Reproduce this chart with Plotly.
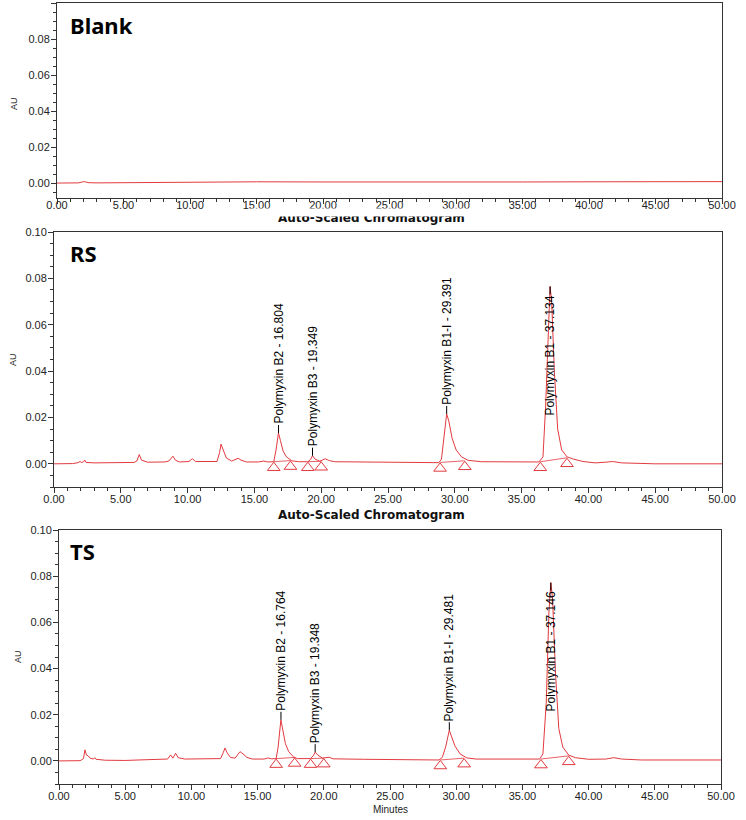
import plotly.graph_objects as go
from plotly.subplots import make_subplots

W, H = 746, 820
RED = "#e23a3f"
FONT = "Liberation Sans"

# ---- data (time in minutes, signal in AU) ----
blank_t = [0, 1.6, 1.9, 2.05, 2.2, 2.4, 3, 5, 8, 10, 15, 20, 25, 30, 35, 40, 45, 50]
blank_au = [0, 0.0001, 0.0006, 0.0008, 0.0005, 0.0002, 0.0001, 0.0002, 0.0004,
            0.0006, 0.0007, 0.0006, 0.0005, 0.0005, 0.0006, 0.0007, 0.0006, 0.0008]

rs_t = [0, 1.4, 1.8, 1.95, 2.05, 2.2, 2.3, 2.4, 3.0, 4.5, 6.0, 6.2, 6.38, 6.55, 6.75, 7.0,
        8.3, 8.6, 8.9, 9.1, 9.4, 10.1, 10.35, 10.6, 12.2, 12.4, 12.5, 12.65, 12.9, 13.3,
        13.6, 13.78, 14.0, 14.4, 15.3, 15.7, 16.0, 16.45, 16.62, 16.8, 16.95, 17.15, 17.4,
        17.8, 18.3, 19.0, 19.2, 19.35, 19.55, 19.9, 20.3, 20.6, 21.0, 23.0, 24.2, 24.5,
        28.8, 29.0, 29.2, 29.39, 29.55, 29.8, 30.1, 30.5, 31.0, 32.0, 36.3, 36.6, 36.8,
        37.0, 37.13, 37.25, 37.45, 37.7, 38.0, 38.4, 38.9, 39.6, 40.5, 41.3, 41.8, 42.5,
        45, 50]
rs_au = [0, 0.0001, 0.0005, 0.0010, 0.0006, 0.0008, 0.0016, 0.0006, 0.0004, 0.0005,
         0.0006, 0.0012, 0.0040, 0.0016, 0.0012, 0.0007, 0.0008, 0.0012, 0.0033, 0.0015,
         0.0008, 0.0010, 0.0022, 0.0010, 0.0010, 0.0050, 0.0085, 0.0060, 0.0025, 0.0012,
         0.0018, 0.0024, 0.0016, 0.0008, 0.0008, 0.0012, 0.0008, 0.0009, 0.0060, 0.0133,
         0.0100, 0.0055, 0.0030, 0.0013, 0.0009, 0.0009, 0.0018, 0.0035, 0.0020, 0.0011,
         0.0022, 0.0014, 0.0009, 0.0008, 0.0010, 0.0008, 0.0005, 0.0020, 0.0120, 0.0215,
         0.0185, 0.0110, 0.0060, 0.0030, 0.0015, 0.0009, 0.0008, 0.0030, 0.0250, 0.0620,
         0.0765, 0.0700, 0.0400, 0.0150, 0.0060, 0.0030, 0.0020, 0.0010, 0.0004, 0.0007,
         0.0010, 0.0004, 0.0000, 0.0000]

ts_t = [0, 1.6, 1.85, 1.96, 2.08, 2.2, 2.35, 2.6, 2.7, 2.8, 3.5, 5.0, 6.5, 7.0, 7.5, 8.2,
        8.43, 8.6, 8.81, 9.0, 9.5, 11.0, 12.2, 12.4, 12.54, 12.7, 12.95, 13.3, 13.5, 13.67,
        13.9, 14.2, 14.6, 15.5, 15.8, 16.05, 16.4, 16.55, 16.76, 16.9, 17.1, 17.35, 17.7,
        18.0, 19.0, 19.2, 19.35, 19.55, 19.9, 20.4, 20.7, 23.0, 28.7, 28.95, 29.2, 29.48,
        29.65, 29.9, 30.3, 30.8, 31.5, 36.3, 36.55, 36.8, 37.0, 37.15, 37.28, 37.5, 37.75,
        38.05, 38.5, 39.0, 40.0, 41.3, 41.9, 42.5, 44.0, 50]
ts_au = [0, 0.0001, 0.0010, 0.0048, 0.0025, 0.0022, 0.0012, 0.0008, 0.0014, 0.0007,
         0.0003, 0.0002, 0.0005, 0.0006, 0.0005, 0.0008, 0.0026, 0.0012, 0.0033, 0.0014,
         0.0008, 0.0008, 0.0010, 0.0035, 0.0056, 0.0035, 0.0015, 0.0012, 0.0030, 0.0040,
         0.0030, 0.0015, 0.0008, 0.0008, 0.0013, 0.0009, 0.0010, 0.0060, 0.0178, 0.0140,
         0.0075, 0.0040, 0.0018, 0.0010, 0.0010, 0.0022, 0.0038, 0.0025, 0.0012, 0.0016,
         0.0009, 0.0007, 0.0004, 0.0015, 0.0060, 0.0133, 0.0105, 0.0065, 0.0030, 0.0013,
         0.0008, 0.0008, 0.0030, 0.0250, 0.0640, 0.0772, 0.0700, 0.0380, 0.0140, 0.0060,
         0.0025, 0.0014, 0.0007, 0.0008, 0.0014, 0.0008, 0.0004, 0.0004]

peak_names = ["Polymyxin B2", "Polymyxin B3", "Polymyxin B1-I", "Polymyxin B1"]
rs_rt = [16.804, 19.349, 29.391, 37.134]
rs_apex = [0.0133, 0.0035, 0.0215, 0.0765]
ts_rt = [16.764, 19.348, 29.481, 37.146]
ts_apex = [0.0178, 0.0038, 0.0133, 0.0772]

# integration start / end marks
rs_start_t = [16.45, 19.0, 28.9, 36.4]
rs_start_au = [0.0009, 0.0009, 0.0006, 0.0009]
rs_end_t = [17.7, 20.0, 30.75, 38.4]
rs_end_au = [0.0014, 0.0011, 0.0013, 0.0026]
ts_start_t = [16.4, 19.0, 28.8, 36.4]
ts_start_au = [0.0010, 0.0010, 0.0004, 0.0008]
ts_end_t = [17.8, 20.0, 30.6, 38.5]
ts_end_au = [0.0015, 0.0012, 0.0012, 0.0022]

panel_names = ["Blank", "RS", "TS"]
y_max = 0.10

# panel boxes in pixels: left, right, top, bottom, y-min, x-label standoff
boxes = [(57, 722, 3, 198, -0.0083, -8),
         (54, 722, 232, 487, -0.01, -3),
         (59, 721, 530, 784, -0.01, -3)]


def fx(px):
    return px / W


def fy(py):
    return 1 - py / H


def au_per_px(row):
    l, r, top, bot, ymin, _ = boxes[row - 1]
    return (y_max - ymin) / (bot - top)


def paper_text(px, py, text, **kw):
    kw.setdefault("xanchor", "center")
    kw.setdefault("yanchor", "middle")
    fig.add_annotation(x=fx(px), y=fy(py), xref="paper", yref="paper", text=text,
                       showarrow=False, **kw)


fig = make_subplots(rows=3, cols=1)

traces = [(blank_t, blank_au), (rs_t, rs_au), (ts_t, ts_au)]
for i, (t, au) in enumerate(traces, start=1):
    fig.add_trace(go.Scatter(x=t, y=au, mode="lines", line=dict(color=RED, width=1),
                             showlegend=False, hoverinfo="skip"), row=i, col=1)

marks = [(2, rs_start_t, rs_start_au, rs_end_t, rs_end_au),
         (3, ts_start_t, ts_start_au, ts_end_t, ts_end_au)]
for row, st, sa, et, ea in marks:
    drop = 6 * au_per_px(row)
    for a, b, c, d in zip(st, sa, et, ea):
        fig.add_trace(go.Scatter(x=[a, c], y=[b, d], mode="lines",
                                 line=dict(color=RED, width=0.8),
                                 showlegend=False, hoverinfo="skip"), row=row, col=1)
    fig.add_trace(go.Scatter(x=st + et, y=[v - drop for v in sa + ea], mode="markers",
                             marker=dict(symbol="triangle-up-open", size=11, color=RED,
                                         line=dict(width=1, color=RED)),
                             showlegend=False, hoverinfo="skip"), row=row, col=1)

# peak labels: short black tick from the apex, vertical text beyond it
for row, rts, apexes in [(2, rs_rt, rs_apex), (3, ts_rt, ts_apex)]:
    gap = 8 * au_per_px(row)
    lx, ly = [], []
    for name, rt, h in zip(peak_names, rts, apexes):
        tall = h > 0.05
        end = h - gap if tall else h + gap
        lx += [rt, rt, None]
        ly += [h, end, None]
        fig.add_annotation(x=rt, y=end, xref=f"x{row}", yref=f"y{row}",
                           text=f"{name} - {rt:.3f}", textangle=-90, showarrow=False,
                           xanchor="center", yanchor="top" if tall else "bottom",
                           borderpad=0, font=dict(family=FONT, size=12, color="black"))
    fig.add_trace(go.Scatter(x=lx, y=ly, mode="lines", line=dict(color="black", width=1),
                             showlegend=False, hoverinfo="skip"), row=row, col=1)

axis_style = dict(showline=True, linecolor="#333", linewidth=1, mirror=True,
                  ticks="outside", ticklen=5, tickcolor="#333", showgrid=False,
                  zeroline=False, tickformat=".2f", automargin=False,
                  tickfont=dict(family=FONT, size=11, color="#222"))

for i, (l, r, top, bot, ymin, xoff) in enumerate(boxes, start=1):
    fig.update_xaxes(domain=[fx(l), fx(r)], range=[0, 50], dtick=5, tick0=0,
                     ticklabelstandoff=xoff,
                     minor=dict(dtick=1, ticks="outside", ticklen=3, tickcolor="#333"),
                     row=i, col=1, **axis_style)
    fig.update_yaxes(domain=[fy(bot), fy(top)], range=[ymin, y_max], dtick=0.02, tick0=0,
                     ticklabelstandoff=-1,
                     minor=dict(dtick=0.005, ticks="outside", ticklen=3, tickcolor="#333"),
                     row=i, col=1, **axis_style)
    # panel tag
    paper_text(68, top + 21 if i > 1 else 25, f"<b>{panel_names[i - 1]}</b>",
               xanchor="left", font=dict(family="Noto Sans", size=22, color="black"))

# AU axis labels
for px, py in [(14, 103), (13, 360), (18, 657)]:
    paper_text(px, py, "AU", textangle=-90, font=dict(family=FONT, size=9, color="#222"))

# chromatogram titles (the upper one is partly hidden in the source)
for py in [218, 515]:
    paper_text(371, py, "<b>Auto-Scaled Chromatogram</b>",
               font=dict(family="DejaVu Sans", size=12, color="#111"))
paper_text(371, 212.0, " ", width=240, height=7, bgcolor="white", borderpad=0,
           font=dict(size=6))

paper_text(390, 809, "Minutes", font=dict(family=FONT, size=10, color="#222"))

fig.update_layout(width=W, height=H, margin=dict(l=0, r=0, t=0, b=0),
                  plot_bgcolor="white", paper_bgcolor="white", showlegend=False)

# the page's default 8px body margin would shift the whole figure
fig.write_html("out.html", config={"displayModeBar": False},
               post_script="document.body.style.margin = '0';")
